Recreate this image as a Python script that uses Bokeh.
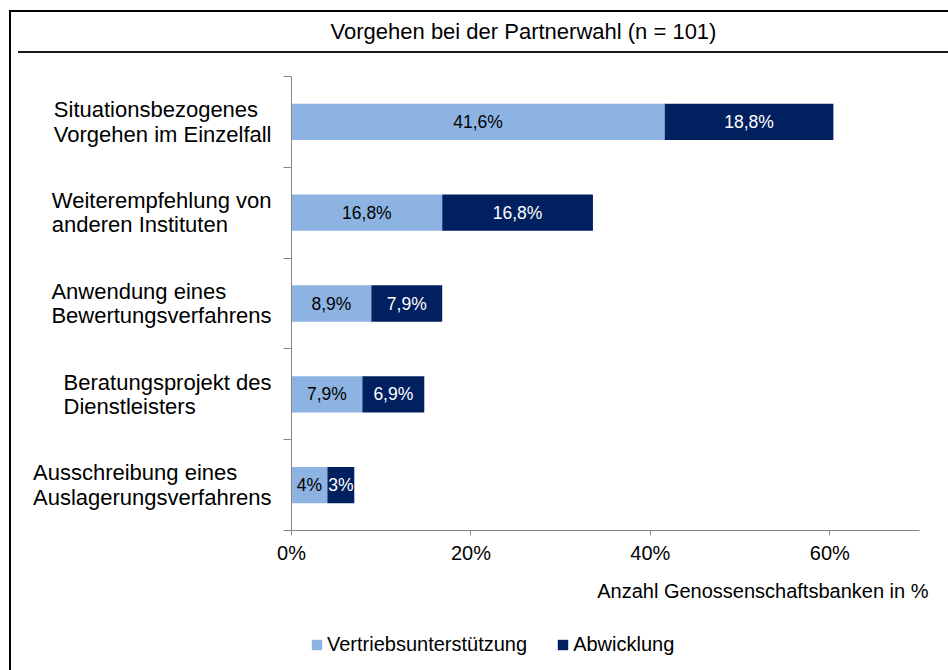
from bokeh.plotting import figure
from bokeh.models import (ColumnDataSource, Range1d, FixedTicker, Legend,
                          LegendItem, Label, CustomJSTickFormatter)
from bokeh.core.properties import value
from bokeh.embed import file_html
from bokeh.resources import INLINE

# ---- data ----
title_text = "Vorgehen bei der Partnerwahl (n = 101)"
categories = [
    "Situationsbezogenes\nVorgehen im Einzelfall",
    "Weiterempfehlung von\nanderen Instituten",
    "Anwendung eines\nBewertungsverfahrens",
    "Beratungsprojekt des\nDienstleisters",
    "Ausschreibung eines\nAuslagerungsverfahrens",
]
series_names = ["Vertriebsunterstützung", "Abwicklung"]
vertrieb = [41.6, 16.8, 8.9, 7.9, 4.0]
abwicklung = [18.8, 16.8, 7.9, 6.9, 3.0]
vertrieb_labels = ["41,6%", "16,8%", "8,9%", "7,9%", "4%"]
abwicklung_labels = ["18,8%", "16,8%", "7,9%", "6,9%", "3%"]
x_ticks = [0, 20, 40, 60]
x_max = 70
x_title = "Anzahl Genossenschaftsbanken in %"

LIGHT = "#8DB3E2"
DARK = "#002060"
AXIS = "#868686"
FONT = "Liberation Sans"

n = len(categories)
ypos = [n - i - 0.5 for i in range(n)]
mid_v = [v / 2 for v in vertrieb]
mid_a = [v + a / 2 for v, a in zip(vertrieb, abwicklung)]

source = ColumnDataSource(dict(y=ypos, v=vertrieb, a=abwicklung,
                               mv=mid_v, ma=mid_a,
                               lv=vertrieb_labels, la=abwicklung_labels))
cat_source = ColumnDataSource(dict(y=ypos, t=categories))

# ---- layout (pixels on the canvas) ----
W, H = 948, 670
AREA_L, AREA_R, AREA_T, AREA_B = 291, 919, 76, 530   # plot area
sx = (AREA_R - AREA_L) / x_max
sy = (AREA_B - AREA_T) / n
x_range = Range1d(-AREA_L / sx, x_max + (W - AREA_R) / sx)
y_range = Range1d(-(H - AREA_B) / sy, n + AREA_T / sy)

p = figure(width=W, height=H, output_backend="svg", toolbar_location=None,
           title=None, x_range=x_range, y_range=y_range,
           min_border=0, min_border_left=0, min_border_right=0,
           min_border_top=0, min_border_bottom=0,
           styles={
               "background-color": "white",
               "background-image": ("linear-gradient(#000,#000), linear-gradient(#000,#000), "
                                    "linear-gradient(#1a1a1a,#1a1a1a)"),
               "background-size": "100% 2px, 2px 100%, 100% 2px",
               "background-position": "9px 10px, 9px 10px, 18px 51px",
               "background-repeat": "no-repeat",
           })
p.outline_line_color = None
p.xgrid.visible = False
p.ygrid.visible = False
p.border_fill_color = None
p.background_fill_color = None

rs = p.hbar_stack(["v", "a"], y="y", height=0.4, color=[LIGHT, DARK],
                  line_color=None, source=source)

p.text(x="mv", y="y", text="lv", source=source, text_align="center",
       text_baseline="middle", text_color="black",
       text_font=value(FONT), text_font_size="17.5px")
p.text(x="ma", y="y", text="la", source=source, text_align="center",
       text_baseline="middle", text_color="white",
       text_font=value(FONT), text_font_size="17.5px")

# category names: block right-aligned next to the axis, lines left-aligned
p.text(x=0, y="y", text="t", source=cat_source, x_offset=-20,
       anchor="center_right", text_align="left",
       text_font=value(FONT), text_font_size="22px",
       text_line_height=0.98, text_color="black")

xa = p.xaxis[0]
xa.fixed_location = 0
xa.bounds = (0, x_max)
xa.ticker = FixedTicker(ticks=x_ticks)
xa.formatter = CustomJSTickFormatter(code="return tick + '%';")
xa.axis_line_color = AXIS
xa.major_tick_line_color = AXIS
xa.major_tick_out = 5
xa.major_tick_in = 0
xa.minor_tick_line_color = None
xa.major_label_text_font = FONT
xa.major_label_text_font_size = "20px"
xa.major_label_text_color = "black"
xa.major_label_standoff = 6

ya = p.yaxis[0]
ya.fixed_location = 0
ya.bounds = (0, n)
ya.ticker = FixedTicker(ticks=list(range(n + 1)))
ya.formatter = CustomJSTickFormatter(code="return '';")
ya.axis_line_color = AXIS
ya.major_tick_line_color = AXIS
ya.major_tick_out = 8
ya.major_tick_in = 0
ya.minor_tick_line_color = None
ya.major_label_standoff = 0

p.add_layout(Label(x=523, y=H - 31, x_units="screen", y_units="screen",
                   text=title_text, text_align="center", text_baseline="middle",
                   text_font=FONT, text_font_size="22px", text_color="black"))
p.add_layout(Label(x=928, y=H - 590, x_units="screen", y_units="screen",
                   text=x_title, text_align="right", text_baseline="middle",
                   text_font=FONT, text_font_size="20px", text_color="black"))

legend = Legend(items=[LegendItem(label=series_names[0], renderers=[rs[0]]),
                       LegendItem(label=series_names[1], renderers=[rs[1]])],
                orientation="horizontal", location=(310, 14),
                glyph_width=13, glyph_height=13, label_standoff=4, spacing=29,
                padding=0, margin=0, border_line_color=None,
                background_fill_alpha=0,
                label_text_font=FONT, label_text_font_size="20px",
                label_text_color="black")
p.add_layout(legend, "center")

open("out.html", "w").write(file_html(p, INLINE))
